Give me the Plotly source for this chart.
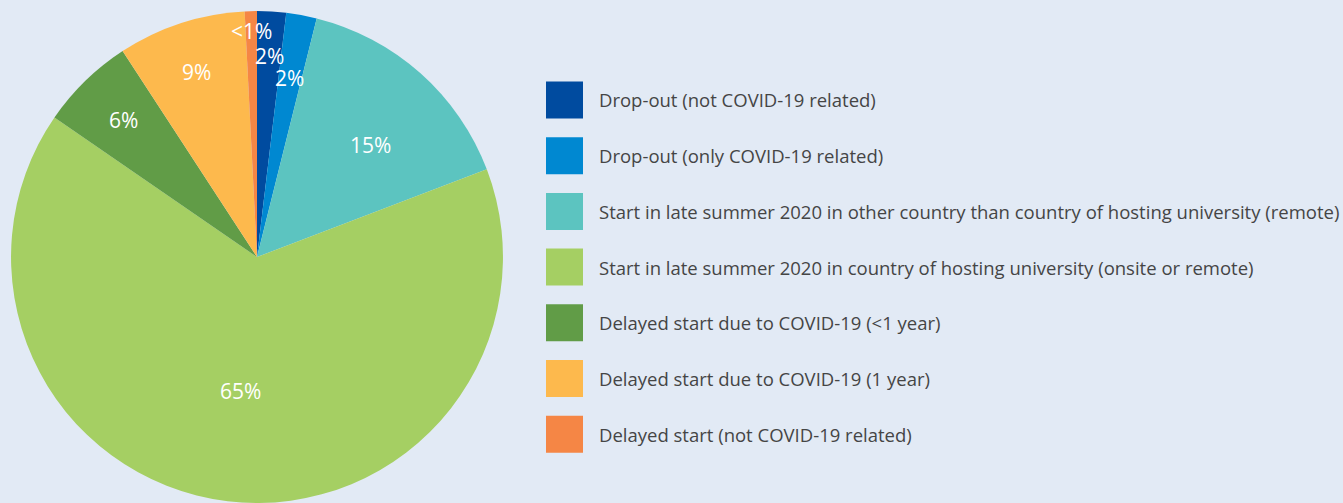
import math
import plotly.graph_objects as go

categories = [
    "Drop-out (not COVID-19 related)",
    "Drop-out (only COVID-19 related)",
    "Start in late summer 2020 in other country than country of hosting university (remote)",
    "Start in late summer 2020 in country of hosting university (onsite or remote)",
    "Delayed start due to COVID-19 (<1 year)",
    "Delayed start due to COVID-19 (1 year)",
    "Delayed start (not COVID-19 related)",
]
values = [1.9, 2.0, 15.3, 65.4, 6.2, 8.4, 0.8]
labels = ["2%", "2%", "15%", "65%", "6%", "9%", "<1%"]
colors = ["#004b9f", "#0088d1", "#5cc4c0", "#a5cf63", "#619c47", "#fdb94d", "#f58645"]
# label placement: radial fraction of radius, angular fraction within slice
label_radius = [0.82, 0.74, 0.65, 0.55, 0.78, 0.79, 0.92]
label_angle = [0.5, 0.5, 0.57, 0.5, 0.5, 0.5, 0.5]

W, H = 1343, 503
BG = "#e2eaf5"

# pie geometry in pixels
dom_x = [11 / W, 503 / W]
dom_y = [0.0, 0.978]
cx = (dom_x[0] + dom_x[1]) / 2 * W
cy_from_bottom = (dom_y[0] + dom_y[1]) / 2 * H
radius = min((dom_x[1] - dom_x[0]) * W, (dom_y[1] - dom_y[0]) * H) / 2

fig = go.Figure(
    go.Pie(
        labels=categories,
        values=values,
        marker=dict(colors=colors, line=dict(width=0)),
        sort=False,
        direction="clockwise",
        rotation=0,
        textinfo="none",
        hoverinfo="label+percent",
        showlegend=False,
        domain=dict(x=dom_x, y=dom_y),
    )
)

annotations = []
total = sum(values)
cum = 0.0
for v, lab, rf, af in zip(values, labels, label_radius, label_angle):
    mid = (cum + v * af) / total * 2 * math.pi
    cum += v
    px = cx + rf * radius * math.sin(mid)
    py = cy_from_bottom + rf * radius * math.cos(mid)
    annotations.append(dict(
        x=px / W, y=py / H, xref="paper", yref="paper",
        text=lab, showarrow=False,
        font=dict(family="Open Sans", size=21, color="#ffffff"),
        xanchor="center", yanchor="middle",
    ))

# custom legend
shapes = []
leg_x0 = 546
box = 37
row0 = 100
step = 55.7
for i, (cat, col) in enumerate(zip(categories, colors)):
    yc = H - (row0 + i * step)
    shapes.append(dict(
        type="rect", xref="paper", yref="paper",
        x0=leg_x0 / W, x1=(leg_x0 + box) / W,
        y0=(yc - box / 2) / H, y1=(yc + box / 2) / H,
        fillcolor=col, line=dict(width=0),
    ))
    annotations.append(dict(
        x=597 / W, y=yc / H, xref="paper", yref="paper",
        text=cat, showarrow=False,
        font=dict(family="Open Sans", size=18.5, color="#454545"),
        xanchor="left", yanchor="middle",
    ))

fig.update_layout(
    width=W, height=H,
    margin=dict(l=0, r=0, t=0, b=0),
    paper_bgcolor=BG, plot_bgcolor=BG,
    annotations=annotations,
    shapes=shapes,
)

fig.write_html(
    "out.html",
    config={"displayModeBar": False},
    post_script="document.body.style.margin='0';document.body.style.background='%s';"
    "document.body.style.overflow='hidden';" % BG,
)
